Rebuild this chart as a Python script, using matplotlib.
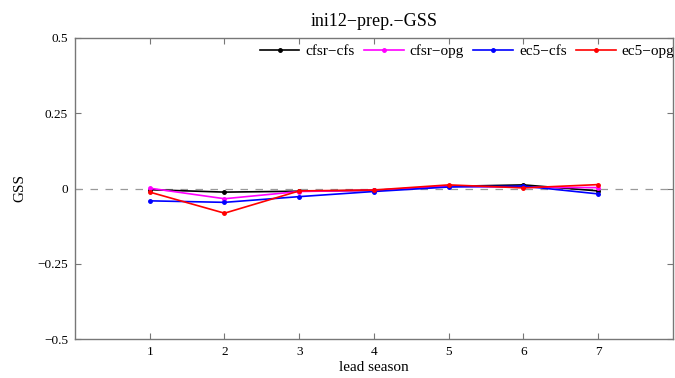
import numpy as np
import matplotlib.pyplot as plt

plt.rcParams['font.family'] = ['Liberation Serif', 'DejaVu Serif']

lead = [1, 2, 3, 4, 5, 6, 7]
cfsr_cfs = [-0.004, -0.012, -0.009, -0.006, 0.007, 0.012, -0.008]
cfsr_opg = [0.001, -0.034, -0.010, -0.006, 0.008, 0.004, 0.003]
ec5_cfs = [-0.041, -0.046, -0.027, -0.010, 0.005, 0.008, -0.018]
ec5_opg = [-0.012, -0.082, -0.008, -0.005, 0.012, 0.002, 0.013]

names = ['cfsr−cfs', 'cfsr−opg', 'ec5−cfs', 'ec5−opg']
colors = ['black', '#ff00ff', '#0000ff', '#ff0000']
yticks = [-0.5, -0.25, 0, 0.25, 0.5]
ytick_labels = ['−0.5', '−0.25', '0', '0.25', '0.5']

fig = plt.figure(figsize=(6.75, 3.78), dpi=100)
ax = fig.add_axes([75 / 675, 39 / 378, 598 / 675, 301 / 378])

ax.plot([0, 8], [0, 0], ls=(0, (6, 6)), c='#999999', lw=0.9)
for vals, name, c in zip([cfsr_cfs, cfsr_opg, ec5_cfs, ec5_opg], names, colors):
    ax.plot(lead, vals, c=c, lw=1.2, marker='.', ms=5, label=name)

ax.set_xlim(0, 8)
ax.set_ylim(-0.5, 0.5)
ax.set_xticks(lead)
ax.set_yticks(yticks)
ax.set_yticklabels(ytick_labels)
ax.tick_params(direction='in', top=True, right=True, labelsize=9.5, length=4,
               color='#777777', pad=5)
for s in ax.spines.values():
    s.set_color('#777777')
    s.set_linewidth(1.0)

ax.set_title('ini12−prep.−GSS', fontsize=13, pad=9)
ax.set_xlabel('lead season', fontsize=11, labelpad=2)
ax.set_ylabel('GSS', fontsize=11, labelpad=8)
ax.legend(loc='upper right', ncol=4, frameon=False, fontsize=11,
          handlelength=2.6, columnspacing=0.6, handletextpad=0.4,
          bbox_to_anchor=(1.02, 1.015), borderaxespad=0.3)

fig.savefig('out.png', dpi=100)
